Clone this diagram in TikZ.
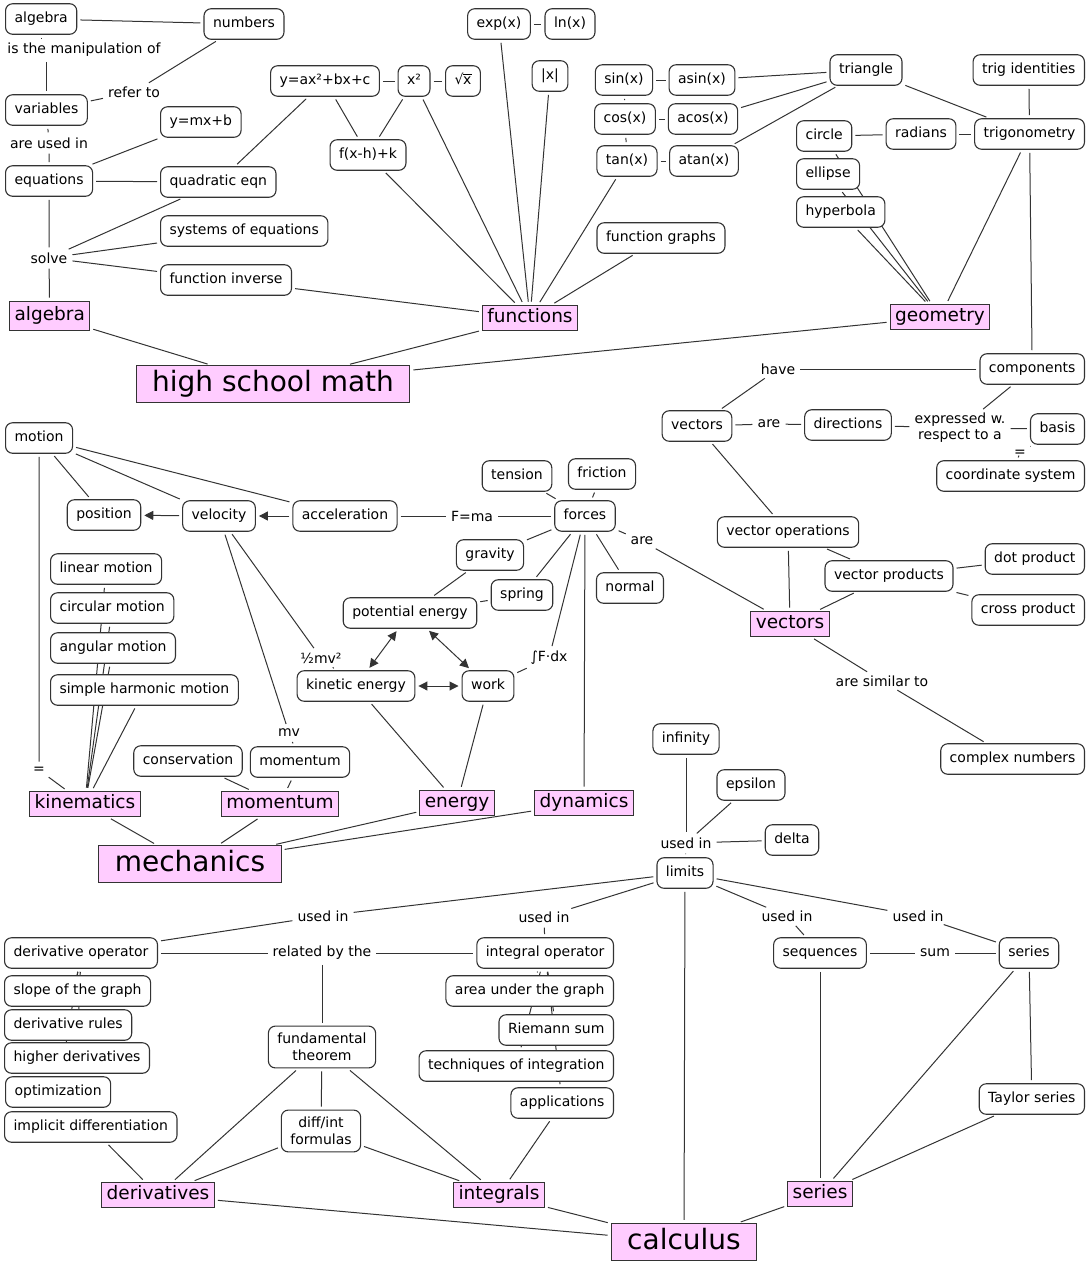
\documentclass[tikz,border=0pt]{standalone}
\usepackage{fontspec}
\setmainfont{DejaVu Sans}
\usetikzlibrary{arrows.meta,backgrounds}
\definecolor{topicpink}{HTML}{FFCCFF}
\definecolor{edgegray}{HTML}{333333}

\begin{document}
\begin{tikzpicture}[x=1pt,y=-1pt,>={Triangle[length=9pt,width=9pt]},
  box/.style={draw=edgegray,line width=1.1pt,rounded corners=7pt,fill=white,inner xsep=9pt,font=\fontsize{14}{17}\selectfont},
  concept/.style={box,text height=10.5pt,text depth=3pt,inner ysep=8.5pt},
  concept2/.style={box,align=center,inner ysep=7pt},
  topic/.style={draw=edgegray,line width=1.1pt,fill=topicpink,inner xsep=5pt,inner ysep=4pt,text height=13.5pt,text depth=4pt,font=\fontsize{18.5}{20}\selectfont},
  big topic/.style={topic,inner xsep=16pt,inner ysep=5pt,text height=21pt,text depth=6pt,font=\fontsize{28}{30}\selectfont},
  link/.style={inner sep=2pt,align=center,font=\fontsize{14}{16}\selectfont},
  every edge/.style={draw=edgegray,line width=1pt,shorten <=3pt,shorten >=3pt}]

  \useasboundingbox (0,0) rectangle (1089,1264);

  % algebra
  \node[concept,anchor=west] (alg) at (5,19) {algebra};
  \node[concept] (num) at (244,24) {numbers};
  \node[link] (manip) at (84,50) {is the manipulation of};
  \node[concept,anchor=west] (var) at (5,110) {variables};
  \node[link] (refer) at (134,92) {refer to};
  \node[concept,anchor=west] (ymx) at (160,122) {y=mx+b};
  \node[link] (areused) at (49,143) {are used in};
  \node[concept,anchor=west] (eqn) at (5,181) {equations};
  \node[concept,anchor=west] (quad) at (160,182) {quadratic eqn};
  \node[concept,anchor=west] (sys) at (160,231) {systems of equations};
  \node[link] (solve) at (49,258) {solve};
  \node[concept,anchor=west] (finv) at (160,280) {function inverse};
  \node[topic,anchor=west,inner ysep=6pt] (algebra) at (9,316) {algebra};

  % functions
  \node[concept] (yax) at (325,81) {y=ax²+bx+c};
  \node[concept] (xsq) at (414,81) {x²};
  \node[concept] (sqrt) at (463,81) {√\kern-0.4pt\rlap{\rule[0.74em]{0.62em}{0.06em}}x};
  \node[concept] (exp) at (499,24) {exp(x)};
  \node[concept] (ln) at (570,24) {ln(x)};
  \node[concept] (abs) at (550,76) {|x|};
  \node[concept] (shift) at (368,155) {f(x-h)+k};
  \node[concept] (sin) at (624,80) {sin(x)};
  \node[concept] (asin) at (702,80) {asin(x)};
  \node[concept] (cos) at (625,119) {cos(x)};
  \node[concept] (acos) at (703,119) {acos(x)};
  \node[concept] (tan) at (627,161) {tan(x)};
  \node[concept] (atan) at (704,161) {atan(x)};
  \node[concept] (graphs) at (661,238) {function graphs};
  \node[topic] (functions) at (530,318) {functions};

  % geometry
  \node[concept] (tri) at (866,70) {triangle};
  \node[concept,anchor=east] (trigid) at (1085,70) {trig identities};
  \node[concept,anchor=east] (trig) at (1085,134) {trigonometry};
  \node[concept] (rad) at (921,134) {radians};
  \node[concept,anchor=west] (circ) at (796,136) {circle};
  \node[concept,anchor=west] (ell) at (796,174) {ellipse};
  \node[concept,anchor=west] (hyp) at (796,212) {hyperbola};
  \node[topic] (geometry) at (940,317) {geometry};

  \node[big topic] (hsm) at (273,384) {high school math};

  % vectors
  \node[concept,anchor=east] (comp) at (1085,369) {components};
  \node[link] (have) at (778,369) {have};
  \node[concept] (vec) at (697,426) {vectors};
  \node[link] (arevec) at (769,424) {are};
  \node[concept] (dir) at (848,425) {directions};
  \node[link] (expr) at (960,428) {expressed w.\\respect to a};
  \node[concept,anchor=east] (basis) at (1085,429) {basis};
  \node[link] (iseq) at (1020,453) {=};
  \node[concept,anchor=east] (coord) at (1085,476) {coordinate system};
  \node[concept] (vecop) at (788,532) {vector operations};
  \node[concept] (vecprod) at (889,576) {vector products};
  \node[concept,anchor=east] (dot) at (1085,559) {dot product};
  \node[concept,anchor=east] (cross) at (1085,610) {cross product};
  \node[topic] (vectors) at (790,624) {vectors};
  \node[link] (similar) at (882,681) {are similar to};
  \node[concept,anchor=east] (complex) at (1085,759) {complex numbers};

  % mechanics
  \node[concept,anchor=west] (motion) at (5,438) {motion};
  \node[concept] (pos) at (104,515) {position};
  \node[concept] (vel) at (219,516) {velocity};
  \node[concept] (acc) at (345,516) {acceleration};
  \node[link] (fma) at (472,516) {F=ma};
  \node[concept] (forces) at (585,516) {forces};
  \node[concept] (tension) at (517,476) {tension};
  \node[concept] (friction) at (602,474) {friction};
  \node[concept] (gravity) at (490,555) {gravity};
  \node[concept] (spring) at (522,595) {spring};
  \node[concept] (normal) at (630,588) {normal};
  \node[link] (areforce) at (642,541) {are};
  \node[concept] (pe) at (410,613) {potential energy};
  \node[link] (half) at (321,658) {½mv²};
  \node[link] (intF) at (549,658) {∫F·dx};
  \node[concept] (ke) at (356,686) {kinetic energy};
  \node[concept] (work) at (488,686) {work};
  \node[concept,anchor=west] (lin) at (50,569) {linear motion};
  \node[concept,anchor=west] (circm) at (50,608) {circular motion};
  \node[concept,anchor=west] (ang) at (50,648) {angular motion};
  \node[concept,anchor=west] (shm) at (50,690) {simple harmonic motion};
  \node[link] (mv) at (289,733) {mv};
  \node[concept] (cons) at (188,761) {conservation};
  \node[concept] (mom) at (300,762) {momentum};
  \node[link] (kineq) at (39,770) {=};
  \node[topic] (kin) at (85,804) {kinematics};
  \node[topic] (momentum) at (280,804) {momentum};
  \node[topic] (energy) at (457,803) {energy};
  \node[topic] (dyn) at (584,803) {dynamics};
  \node[big topic] (mech) at (190,864) {mechanics};

  % calculus
  \node[concept] (inf) at (686,739) {infinity};
  \node[concept] (eps) at (751,785) {epsilon};
  \node[link] (usedlim) at (686,843) {used in};
  \node[concept] (delta) at (792,840) {delta};
  \node[concept] (lim) at (685,873) {limits};
  \node[link] (usedd) at (323,916) {used in};
  \node[link] (usedi) at (544,917) {used in};
  \node[link] (useds) at (787,916) {used in};
  \node[link] (usedr) at (918,916) {used in};
  \node[concept,anchor=west] (dop) at (4,953) {derivative operator};
  \node[link] (related) at (322,953) {related by the};
  \node[concept,anchor=east] (iop) at (614,953) {integral operator};
  \node[concept] (seq) at (820,953) {sequences};
  \node[link] (sum) at (935,953) {sum};
  \node[concept] (ser) at (1029,953) {series};
  \node[concept,anchor=west] (slope) at (4,991) {slope of the graph};
  \node[concept,anchor=west] (drules) at (4,1025) {derivative rules};
  \node[concept,anchor=west] (higher) at (4,1058) {higher derivatives};
  \node[concept,anchor=west] (opt) at (5,1092) {optimization};
  \node[concept,anchor=west] (impl) at (4,1127) {implicit differentiation};
  \node[concept,anchor=east] (area) at (614,991) {area under the graph};
  \node[concept,anchor=east] (riem) at (614,1030) {Riemann sum};
  \node[concept,anchor=east] (tech) at (614,1066) {techniques of integration};
  \node[concept,anchor=east] (appl) at (614,1103) {applications};
  \node[concept2] (ftc) at (322,1047) {fundamental\\theorem};
  \node[concept2] (formulas) at (321,1131) {diff/int\\formulas};
  \node[concept,anchor=east] (taylor) at (1085,1099) {Taylor series};
  \node[topic] (deriv) at (158,1195) {derivatives};
  \node[topic] (integ) at (499,1195) {integrals};
  \node[topic] (series) at (820,1194) {series};
  \node[big topic] (calc) at (684,1242) {calculus};

  \begin{scope}[on background layer]
  \path (alg) edge (num)
        (alg) edge (alg |- manip.north) (var |- manip.south) edge (var)
        (num) edge (refer) (refer) edge (var)
        (var) edge (areused) (areused) edge (eqn)
        (eqn) edge (ymx) (eqn) edge (quad)
        (eqn) edge (solve) (solve) edge (algebra)
        (solve) edge (quad) (solve) edge (sys) (solve) edge (finv)
        (quad) edge (yax) (finv) edge (functions);
  \path (yax) edge (xsq) (xsq) edge (sqrt) (exp) edge (ln)
        (sin) edge (asin) (cos) edge (acos) (tan) edge (atan)
        (sin) edge (cos) (cos) edge (tan)
        (yax) edge (shift) (xsq) edge (shift)
        (functions) edge (shift) (functions) edge (xsq)
        (functions) edge (exp) (functions) edge (abs)
        (functions) edge (tan) (functions) edge (graphs);
  \path (asin) edge (tri) (acos) edge (tri) (atan) edge (tri)
        (tri) edge (trig) (trigid) edge (trig) (rad) edge (trig)
        (circ) edge (rad)
        (geometry) edge (hyp) (geometry) edge (ell) (geometry) edge (circ)
        (trig) edge (geometry) (trig) edge (comp);
  \path (algebra) edge (hsm) (functions) edge (hsm) (geometry) edge (hsm);
  \path (comp) edge (have) (have) edge (vec)
        (vec) edge (arevec) (arevec) edge (dir)
        (dir) edge (expr) (expr) edge (basis) (comp) edge (expr)
        (basis) edge (iseq) (iseq) edge (coord)
        (vec) edge (vecop) (vecop) edge (vectors) (vecop) edge (vecprod)
        (vecprod) edge (dot) (vecprod) edge (cross) (vecprod) edge (vectors)
        (forces) edge (areforce) (areforce) edge (vectors)
        (vectors) edge (similar) (similar) edge (complex);
  \path (vel) edge[->] (pos) (acc) edge[->] (vel)
        (motion) edge (pos) (motion) edge (vel) (motion) edge (acc)
        (acc) edge (fma) (fma) edge (forces)
        (forces) edge (tension) (forces) edge (friction)
        (forces) edge (gravity) (forces) edge (spring) (forces) edge (normal)
        (forces) edge (intF) (intF) edge (work) (forces) edge (dyn)
        (gravity) edge (pe) (spring) edge (pe)
        (pe) edge[<->] (ke) (pe) edge[<->] (work) (ke) edge[<->] (work)
        (vel) edge (half) (half) edge (ke) (vel) edge (mv) (mv) edge (mom)
        (ke) edge (energy) (work) edge (energy)
        (kin) edge (lin) (kin) edge (circm) (kin) edge (ang) (kin) edge (shm)
        (motion) edge (kineq) (kineq) edge (kin)
        (cons) edge (momentum) (mom) edge (momentum)
        (kin) edge (mech) (momentum) edge (mech)
        (energy) edge (mech) (dyn) edge (mech);
  \path (inf) edge (usedlim) (eps) edge (usedlim) (delta) edge (usedlim)
        (usedlim) edge (lim)
        (lim) edge (usedd) (usedd) edge (dop)
        (lim) edge (usedi) (usedi) edge (iop)
        (lim) edge (useds) (useds) edge (seq)
        (lim) edge (usedr) (usedr) edge (ser)
        (lim) edge (calc)
        (dop) edge (related) (related) edge (iop) (related) edge (ftc)
        (dop) edge (slope) (dop) edge (drules) (dop) edge (higher) (dop) edge (opt)
        (impl) edge (deriv)
        (iop) edge (area) (iop) edge (riem) (iop) edge (tech) (iop) edge (appl)
        (appl) edge (integ)
        (ftc) edge (formulas) (ftc) edge (deriv) (ftc) edge (integ)
        (formulas) edge (deriv) (formulas) edge (integ)
        (seq) edge (sum) (sum) edge (ser)
        (seq) edge (series) (ser) edge (series)
        (ser) edge (taylor) (taylor) edge (series)
        (deriv) edge (calc) (integ) edge (calc) (series) edge (calc);
  \end{scope}
\end{tikzpicture}
\end{document}
